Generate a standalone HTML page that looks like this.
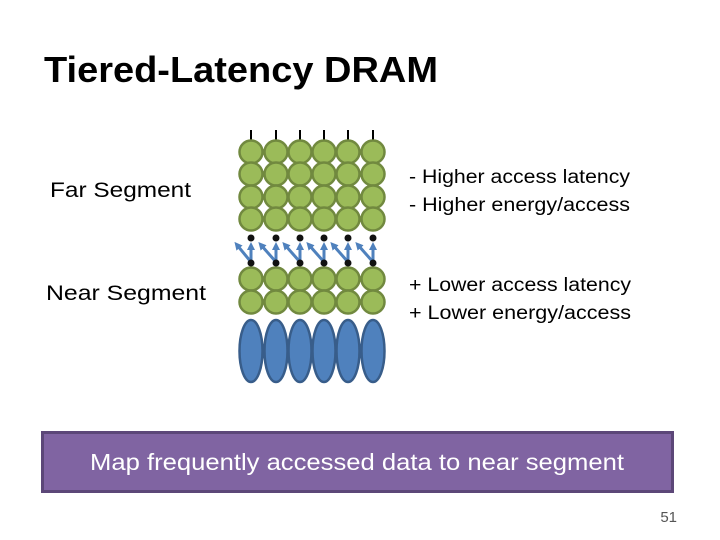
<!DOCTYPE html>
<html><head><style>body{margin:0;background:#fff}svg{display:block}</style></head><body>
<svg width="720" height="540" viewBox="0 0 720 540" xmlns="http://www.w3.org/2000/svg" font-family="Liberation Sans, sans-serif">
<defs><marker id="ah" markerWidth="8" markerHeight="8" refX="4" refY="4" orient="auto" markerUnits="userSpaceOnUse"><path d="M0,0 L8,4 L0,8 z" fill="#4f81bd"/></marker>
<g id="row"><circle cx="251" cy="0" r="11.5"/><circle cx="276" cy="0" r="11.5"/><circle cx="300" cy="0" r="11.5"/><circle cx="324" cy="0" r="11.5"/><circle cx="348" cy="0" r="11.5"/><circle cx="373" cy="0" r="11.5"/></g>
</defs>
<text x="44" y="82" font-size="36" font-weight="bold" textLength="394" lengthAdjust="spacingAndGlyphs" fill="#000">Tiered-Latency DRAM</text>
<text x="50" y="197" font-size="21" textLength="141" lengthAdjust="spacingAndGlyphs">Far Segment</text>
<text x="46" y="300" font-size="21" textLength="160" lengthAdjust="spacingAndGlyphs">Near Segment</text>
<text x="409" y="183" font-size="19" textLength="221" lengthAdjust="spacingAndGlyphs">- Higher access latency</text>
<text x="409" y="211" font-size="19" textLength="221" lengthAdjust="spacingAndGlyphs">- Higher energy/access</text>
<text x="409" y="291" font-size="19" textLength="222" lengthAdjust="spacingAndGlyphs">+ Lower access latency</text>
<text x="409" y="319" font-size="19" textLength="222" lengthAdjust="spacingAndGlyphs">+ Lower energy/access</text>
<g stroke="#000" stroke-width="2">
<line x1="251" y1="130" x2="251" y2="140"/><line x1="276" y1="130" x2="276" y2="140"/><line x1="300" y1="130" x2="300" y2="140"/><line x1="324" y1="130" x2="324" y2="140"/><line x1="348" y1="130" x2="348" y2="140"/><line x1="373" y1="130" x2="373" y2="140"/>
</g>
<g fill="#9bbb59" stroke="#71893f" stroke-width="2.5">
<use href="#row" y="152"/><use href="#row" y="174"/><use href="#row" y="197"/><use href="#row" y="219"/><use href="#row" y="279"/><use href="#row" y="302"/>
</g>
<g fill="#4f81bd" stroke="#385d8a" stroke-width="2.5">
<ellipse cx="251" cy="351" rx="11.5" ry="31"/><ellipse cx="276" cy="351" rx="11.5" ry="31"/><ellipse cx="300" cy="351" rx="11.5" ry="31"/><ellipse cx="324" cy="351" rx="11.5" ry="31"/><ellipse cx="348" cy="351" rx="11.5" ry="31"/><ellipse cx="373" cy="351" rx="11.5" ry="31"/>
</g>
<g stroke="#4f81bd" stroke-width="3" marker-end="url(#ah)">
<line x1="251" y1="262" x2="251" y2="246"/><line x1="276" y1="262" x2="276" y2="246"/><line x1="300" y1="262" x2="300" y2="246"/><line x1="324" y1="262" x2="324" y2="246"/><line x1="348" y1="262" x2="348" y2="246"/><line x1="373" y1="262" x2="373" y2="246"/>
<line x1="251" y1="262" x2="237" y2="245"/><line x1="276" y1="262" x2="261" y2="245"/><line x1="300" y1="262" x2="285" y2="245"/><line x1="324" y1="262" x2="309" y2="245"/><line x1="348" y1="262" x2="333" y2="245"/><line x1="373" y1="262" x2="358" y2="245"/>
</g>
<g fill="#111">
<circle cx="251" cy="238" r="3.5"/><circle cx="276" cy="238" r="3.5"/><circle cx="300" cy="238" r="3.5"/><circle cx="324" cy="238" r="3.5"/><circle cx="348" cy="238" r="3.5"/><circle cx="373" cy="238" r="3.5"/>
<circle cx="251" cy="263" r="3.5"/><circle cx="276" cy="263" r="3.5"/><circle cx="300" cy="263" r="3.5"/><circle cx="324" cy="263" r="3.5"/><circle cx="348" cy="263" r="3.5"/><circle cx="373" cy="263" r="3.5"/>
</g>
<rect x="42.5" y="432.5" width="630" height="59" fill="#8064a2" stroke="#5c4778" stroke-width="3"/>
<text x="357" y="470" font-size="23" fill="#fff" text-anchor="middle" textLength="534" lengthAdjust="spacingAndGlyphs">Map frequently accessed data to near segment</text>
<text x="677" y="522" font-size="15" fill="#555" text-anchor="end">51</text>
</svg>
</body></html>
